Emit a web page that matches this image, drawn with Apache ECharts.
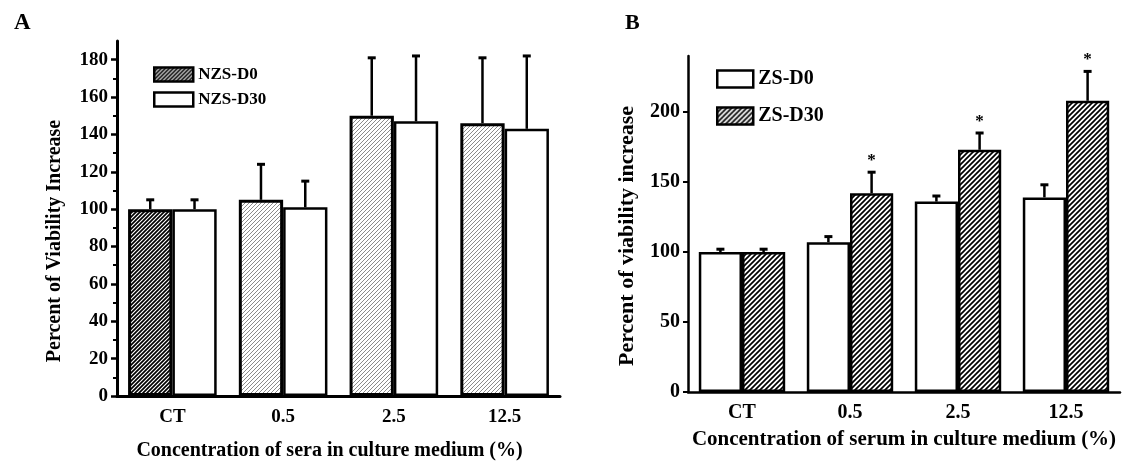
<!DOCTYPE html>
<html>
<head>
<meta charset="utf-8">
<script src="https://cdn.jsdelivr.net/npm/echarts@6/dist/echarts.min.js"></script>
<style>
  html, body { margin: 0; padding: 0; background: #fff; }
  #main { width: 1130px; height: 466px; }
</style>
</head>
<body>
<div id="main"></div>
<script>
// categories on both panels
var categories = ['CT', '0.5', '2.5', '12.5'];

// panel A (non-zinc sera)
var nzsD0 = [100, 105, 150, 146];
var nzsD0Err = [5, 19, 31, 35];
var nzsD30 = [100, 101, 147, 143];
var nzsD30Err = [5, 14, 35, 39];
var yTicksA = [0, 20, 40, 60, 80, 100, 120, 140, 160, 180];

// panel B (zinc sera)
var zsD0 = [100, 107, 136, 139];
var zsD0Err = [2, 4, 4, 9];
var zsD30 = [100, 142, 173, 208];
var zsD30Err = [2, 15, 12, 21];
var zsStars = [false, true, true, true];
var yTicksB = [0, 50, 100, 150, 200];

var FONT = '"Liberation Serif", "DejaVu Serif", serif';

// diagonal hatch tile used as bar fill
function hatch(size, lineW, color) {
  var c = document.createElement('canvas');
  c.width = size;
  c.height = size;
  var ctx = c.getContext('2d');
  ctx.fillStyle = '#fff';
  ctx.fillRect(0, 0, size, size);
  ctx.strokeStyle = color;
  ctx.lineWidth = lineW;
  ctx.beginPath();
  ctx.moveTo(0, size); ctx.lineTo(size, 0);
  ctx.moveTo(-1, 1); ctx.lineTo(1, -1);
  ctx.moveTo(size - 1, size + 1); ctx.lineTo(size + 1, size - 1);
  ctx.stroke();
  return { image: c, repeat: 'repeat' };
}

var darkHatch = hatch(4, 1.7, '#000');
var lightHatch = hatch(4, 1, '#8a8a8a');
var hatchB = hatch(5, 1.7, '#000');

function withErr(vals, errs) {
  return vals.map(function (v, i) { return [i, v, errs[i]]; });
}

// error bar (upward only) drawn over a bar, side = -1 left bar, +1 right bar
function errRender(side, stars) {
  return function (params, api) {
    var idx = api.value(0);
    var v = api.value(1);
    var e = api.value(2);
    var bw = api.size([1, 0])[0];
    var base = api.coord([idx, v]);
    var top = api.coord([idx, v + e]);
    var cx = base[0] + side * bw * 0.2;
    var kids = [
      { type: 'line', shape: { x1: cx, y1: base[1], x2: cx, y2: top[1] }, style: { stroke: '#000', lineWidth: 2.5 } },
      { type: 'line', shape: { x1: cx - 4, y1: top[1], x2: cx + 4, y2: top[1] }, style: { stroke: '#000', lineWidth: 3 } }
    ];
    if (stars && stars[idx]) {
      kids.push({
        type: 'text',
        style: { x: cx, y: top[1] - 3, text: '*', textAlign: 'center', textVerticalAlign: 'bottom',
          font: 'bold 17px ' + FONT, fill: '#000' }
      });
    }
    return { type: 'group', children: kids };
  };
}

var labelStyle = { fontFamily: FONT, fontWeight: 'bold', color: '#000' };

var chart = echarts.init(document.getElementById('main'));

var option = {
  backgroundColor: '#fff',
  animation: false,
  title: [
    { text: 'A', left: 9, top: 7, textStyle: { fontFamily: FONT, fontWeight: 'bold', fontSize: 23, color: '#000' } },
    { text: 'B', left: 620, top: 7, textStyle: { fontFamily: FONT, fontWeight: 'bold', fontSize: 22, color: '#000' } }
  ],
  graphic: [
    {
      type: 'text', x: 55, y: 241, rotation: Math.PI / 2,
      style: { text: 'Percent of Viability Increase', font: 'bold 20px ' + FONT, fill: '#000',
        textAlign: 'center', textVerticalAlign: 'middle' }
    },
    {
      type: 'text', x: 627, y: 236, rotation: Math.PI / 2,
      style: { text: 'Percent of viability increase', font: 'bold 22px ' + FONT, fill: '#000',
        textAlign: 'center', textVerticalAlign: 'middle' }
    }
  ],
  legend: [
    {
      data: ['NZS-D0', 'NZS-D30'],
      orient: 'vertical',
      left: 153, top: 66, padding: 0,
      icon: 'rect',
      itemWidth: 39, itemHeight: 14, itemGap: 8,
      textStyle: { fontFamily: FONT, fontWeight: 'bold', fontSize: 17, lineHeight: 14, color: '#000' },
      itemStyle: { borderColor: '#000', borderWidth: 2.5 }
    },
    {
      data: ['ZS-D0', 'ZS-D30'],
      orient: 'vertical',
      left: 716, top: 69, padding: 0,
      icon: 'rect',
      itemWidth: 36, itemHeight: 17, itemGap: 17,
      textStyle: { fontFamily: FONT, fontWeight: 'bold', fontSize: 20, lineHeight: 17, color: '#000' },
      itemStyle: { borderColor: '#000', borderWidth: 2.5 }
    }
  ],
  grid: [
    { left: 117, top: 41, width: 443, height: 357 },
    { left: 688, top: 56, width: 432, height: 336 }
  ],
  xAxis: [
    {
      type: 'category', gridIndex: 0, data: categories,
      axisLine: { lineStyle: { color: '#000', width: 3 } },
      axisTick: { alignWithLabel: true, length: 6, lineStyle: { width: 3, color: '#000' } },
      axisLabel: Object.assign({ fontSize: 19, margin: 12 }, labelStyle),
      name: 'Concentration of sera in culture medium (%)',
      nameLocation: 'middle', nameGap: 45,
      nameTextStyle: Object.assign({ fontSize: 20, padding: [0, 18, 0, 0] }, labelStyle)
    },
    {
      type: 'category', gridIndex: 0, data: categories,
      axisLine: { show: false },
      axisTick: { length: 3, lineStyle: { width: 3, color: '#000' } },
      axisLabel: { show: false }
    },
    {
      type: 'category', gridIndex: 1, data: categories,
      axisLine: { lineStyle: { color: '#000', width: 2.5 } },
      axisTick: { alignWithLabel: true, length: 6, lineStyle: { width: 2.5, color: '#000' } },
      axisLabel: Object.assign({ fontSize: 20, margin: 11 }, labelStyle),
      name: 'Concentration of serum in culture medium (%)',
      nameLocation: 'middle', nameGap: 37,
      nameTextStyle: Object.assign({ fontSize: 21 }, labelStyle)
    },
    {
      type: 'category', gridIndex: 1, data: categories,
      axisLine: { show: false },
      axisTick: { length: 3, lineStyle: { width: 2.5, color: '#000' } },
      axisLabel: { show: false }
    }
  ],
  yAxis: [
    {
      type: 'value', gridIndex: 0, min: 0, max: 190, interval: 20,
      axisLine: { show: true, lineStyle: { color: '#000', width: 3 } },
      axisTick: { show: true, length: 6, lineStyle: { width: 2.5, color: '#000' }, customValues: yTicksA },
      minorTick: { show: true, splitNumber: 2, length: 4, lineStyle: { width: 2, color: '#000' } },
      axisLabel: Object.assign({ fontSize: 19, margin: 9, customValues: yTicksA }, labelStyle),
      splitLine: { show: false }
    },
    {
      type: 'value', gridIndex: 1, min: 0, max: 240, interval: 50,
      axisLine: { show: true, lineStyle: { color: '#000', width: 2.5 } },
      axisTick: { show: true, length: 5, lineStyle: { width: 2, color: '#000' }, customValues: yTicksB },
      axisLabel: Object.assign({ fontSize: 20, margin: 8, customValues: yTicksB }, labelStyle),
      splitLine: { show: false }
    }
  ],
  series: [
    {
      name: 'NZS-D0', type: 'bar', xAxisIndex: 0, yAxisIndex: 0,
      barWidth: '40%', barGap: '0%',
      itemStyle: { color: darkHatch, borderColor: '#000', borderWidth: 3 },
      data: nzsD0.map(function (v, i) {
        return i === 0 ? v : { value: v, itemStyle: { color: lightHatch } };
      })
    },
    {
      name: 'NZS-D30', type: 'bar', xAxisIndex: 0, yAxisIndex: 0,
      barWidth: '40%', barGap: '0%',
      itemStyle: { color: '#fff', borderColor: '#000', borderWidth: 2.5 },
      data: nzsD30
    },
    {
      type: 'custom', xAxisIndex: 0, yAxisIndex: 0, z: 5,
      renderItem: errRender(-1), data: withErr(nzsD0, nzsD0Err)
    },
    {
      type: 'custom', xAxisIndex: 0, yAxisIndex: 0, z: 5,
      renderItem: errRender(1), data: withErr(nzsD30, nzsD30Err)
    },
    {
      name: 'ZS-D0', type: 'bar', xAxisIndex: 2, yAxisIndex: 1,
      barWidth: '40%', barGap: '0%',
      itemStyle: { color: '#fff', borderColor: '#000', borderWidth: 2.5 },
      data: zsD0
    },
    {
      name: 'ZS-D30', type: 'bar', xAxisIndex: 2, yAxisIndex: 1,
      barWidth: '40%', barGap: '0%',
      itemStyle: { color: hatchB, borderColor: '#000', borderWidth: 2.5 },
      data: zsD30
    },
    {
      type: 'custom', xAxisIndex: 2, yAxisIndex: 1, z: 5,
      renderItem: errRender(-1), data: withErr(zsD0, zsD0Err)
    },
    {
      type: 'custom', xAxisIndex: 2, yAxisIndex: 1, z: 5,
      renderItem: errRender(1, zsStars), data: withErr(zsD30, zsD30Err)
    }
  ]
};

chart.setOption(option);
</script>
</body>
</html>
